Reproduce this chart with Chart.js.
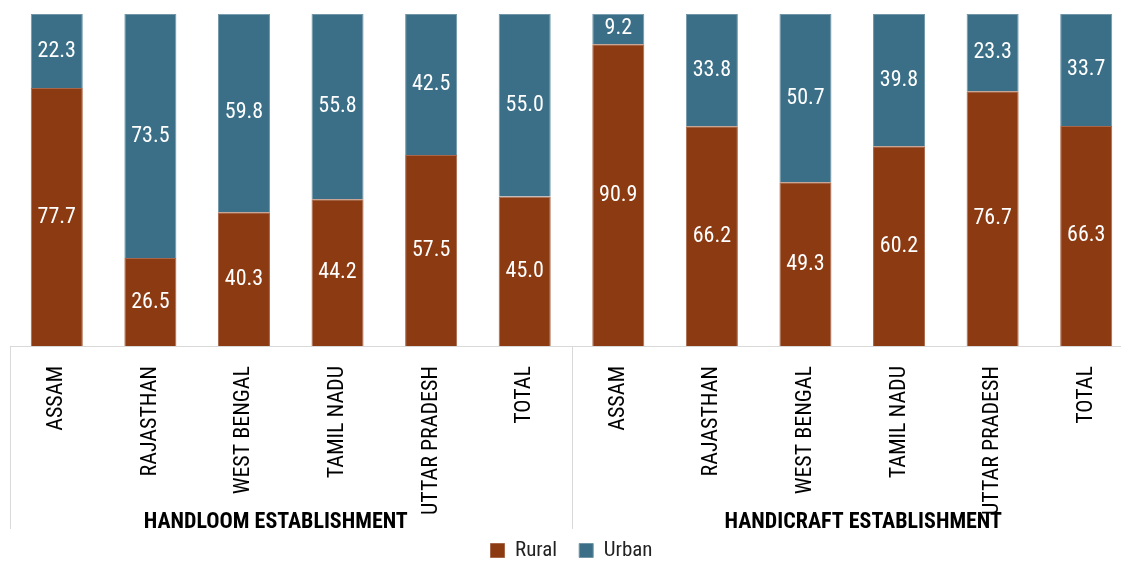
<!DOCTYPE html>
<html>
<head>
<meta charset="utf-8">
<script src="https://cdn.jsdelivr.net/npm/chart.js@4"></script>
<style>
  html, body { margin: 0; padding: 0; background: #fff; overflow: hidden; }
  #wrap { width: 1135px; height: 571px; }
</style>
</head>
<body>
<div id="wrap"><canvas id="canvas"></canvas></div>
<script>
const FONT = "'Roboto Condensed', 'DejaVu Sans Condensed', Roboto, sans-serif";

const states = ["ASSAM", "RAJASTHAN", "WEST BENGAL", "TAMIL NADU", "UTTAR PRADESH", "TOTAL"];
const groups = ["HANDLOOM ESTABLISHMENT", "HANDICRAFT ESTABLISHMENT"];
const categories = [...states, ...states];

const rural = [77.7, 26.5, 40.3, 44.2, 57.5, 45.0, 90.9, 66.2, 49.3, 60.2, 76.7, 66.3];
const urban = [22.3, 73.5, 59.8, 55.8, 42.5, 55.0, 9.2, 33.8, 50.7, 39.8, 23.3, 33.7];

const AXIS_DEPTH = 183;          // hauteur de la zone des libellés sous l'axe
const GROUP_SHIFT = [-15, 11];   // décalage horizontal des titres de groupe

// valeurs au centre de chaque segment
const valueLabels = {
    id: "valueLabels",
    afterDatasetsDraw(chart) {
        const {ctx} = chart;
        ctx.save();
        ctx.fillStyle = "#fff";
        ctx.font = "22px " + FONT;
        ctx.textAlign = "center";
        ctx.textBaseline = "middle";
        chart.data.datasets.forEach((ds, i) => {
            chart.getDatasetMeta(i).data.forEach((bar, j) => {
                ctx.fillText(ds.data[j].toFixed(1), bar.x, (bar.y + bar.base) / 2);
            });
        });
        ctx.restore();
    },
};

// séparateurs et titres de groupes sous l'axe
const groupAxis = {
    id: "groupAxis",
    afterDraw(chart) {
        const {ctx, chartArea} = chart;
        const x = chart.scales.x;
        const n = states.length;
        const half = (x.getPixelForValue(1) - x.getPixelForValue(0)) / 2;
        const top = chartArea.bottom;
        const bottom = top + AXIS_DEPTH;
        ctx.save();
        ctx.strokeStyle = "#d9d9d9";
        ctx.lineWidth = 1;
        [0, n, 2 * n].forEach(k => {
            const px = Math.round(x.getPixelForValue(k) - half) + 0.5;
            ctx.beginPath();
            ctx.moveTo(px, top);
            ctx.lineTo(px, bottom);
            ctx.stroke();
        });
        ctx.fillStyle = "#000";
        ctx.font = "bold 22px " + FONT;
        ctx.textAlign = "center";
        ctx.textBaseline = "middle";
        groups.forEach((g, gi) => {
            const a = x.getPixelForValue(gi * n) - half;
            const b = x.getPixelForValue(gi * n + n - 1) + half;
            ctx.fillText(g, (a + b) / 2 + GROUP_SHIFT[gi], bottom - 7);
        });
        ctx.restore();
    },
};

new Chart(document.getElementById("canvas"), {
    type: "bar",
    data: {
        labels: categories,
        datasets: [
            {
                label: "Rural",
                data: rural,
                backgroundColor: "#8B3A12",
                borderColor: "#a8674a",
                borderWidth: 1,
                categoryPercentage: 1,
                barPercentage: 0.556,
            },
            {
                label: "Urban",
                data: urban,
                backgroundColor: "#3A6F87",
                borderColor: "#7096a8",
                borderWidth: 1,
                categoryPercentage: 1,
                barPercentage: 0.556,
            },
        ],
    },
    options: {
        responsive: true,
        maintainAspectRatio: false,
        animation: false,
        layout: {padding: {left: 10, right: 2, top: 14, bottom: 0}},
        plugins: {
            legend: {
                position: "bottom",
                labels: {
                    color: "#222",
                    font: {family: FONT, size: 21},
                    boxWidth: 14,
                    boxHeight: 14,
                    padding: 22,
                },
            },
            tooltip: {enabled: false},
        },
        scales: {
            x: {
                stacked: true,
                grid: {display: false},
                border: {color: "#d9d9d9"},
                ticks: {
                    color: "#000",
                    font: {family: FONT, size: 22},
                    minRotation: 90,
                    maxRotation: 90,
                    padding: 12,
                },
                afterFit(scale) { scale.height = 172; },
            },
            y: {
                stacked: true,
                display: false,
                min: 0,
                max: 100,
            },
        },
    },
    plugins: [valueLabels, groupAxis],
});
</script>
</body>
</html>
